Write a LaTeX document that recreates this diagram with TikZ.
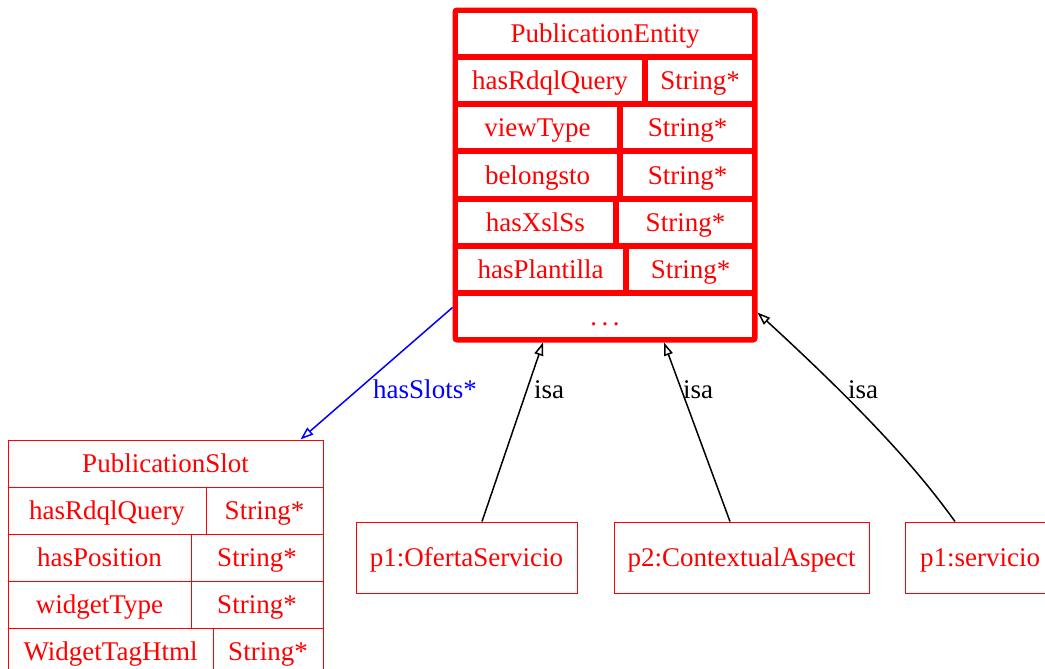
\documentclass[tikz,border=0pt]{standalone}
\usepackage{fontspec}
\setmainfont{Liberation Serif}
\usetikzlibrary{arrows.meta, calc}

\begin{document}
\begin{tikzpicture}[x = 0.5pt, y = -0.5pt,
  font = \fontsize{13.5}{16}\selectfont,
  cell/.style = {draw = red, text = red, inner sep = 0pt, text height = 10pt, text depth = 1pt},
  thickcell/.style = {cell, line width = 1.5pt, minimum height = 22.07pt},
  thincell/.style = {cell, line width = 0.5pt, minimum height = 23.5pt},
  lbl/.style = {inner sep = 0pt, text height = 10pt, text depth = 1pt},
  isa/.style = {-{Triangle[open, length = 6.5pt, width = 4.5pt]}, line width = 0.75pt}]
\useasboundingbox (0, 0) rectangle (1045, 669);
\clip (0, 0) rectangle (1045, 669);

% PublicationEntity
\node[draw = red, line width = 2.5pt, rounded corners = 1pt, minimum width = 150pt, minimum height = 165pt] (entity) at (605, 175) {};
\node[thickcell, minimum width = 148.5pt] (e-title) at (605, 33.57) {PublicationEntity};
\node[thickcell, minimum width = 93.5pt] (e-query) at (550, 80.71) {hasRdqlQuery};
\node[thickcell, minimum width = 53.5pt] (e-query-t) at (700, 80.71) {String*};
\node[thickcell, minimum width = 81pt] (e-view) at (537.5, 127.86) {viewType};
\node[thickcell, minimum width = 66pt] (e-view-t) at (687.5, 127.86) {String*};
\node[thickcell, minimum width = 81pt] (e-belongs) at (537.5, 175) {belongsto};
\node[thickcell, minimum width = 66pt] (e-belongs-t) at (687.5, 175) {String*};
\node[thickcell, minimum width = 79pt] (e-xsl) at (535.5, 222.14) {hasXslSs};
\node[thickcell, minimum width = 68pt] (e-xsl-t) at (685.5, 222.14) {String*};
\node[thickcell, minimum width = 84pt] (e-plant) at (540.5, 269.29) {hasPlantilla};
\node[thickcell, minimum width = 63pt] (e-plant-t) at (690.5, 269.29) {String*};
\node[thickcell, minimum width = 148.5pt] (e-more) at (605, 316.43) {.\,.\,.};

% PublicationSlot
\node[thincell, minimum width = 157.5pt] (slot) at (165.5, 463.5) {PublicationSlot};
\node[thincell, minimum width = 99pt] (s-query) at (107, 510.5) {hasRdqlQuery};
\node[thincell, minimum width = 58.5pt] (s-query-t) at (264.5, 510.5) {String*};
\node[thincell, minimum width = 91.5pt] (s-pos) at (99.5, 557.5) {hasPosition};
\node[thincell, minimum width = 66pt] (s-pos-t) at (257, 557.5) {String*};
\node[thincell, minimum width = 91.5pt] (s-widget) at (99.5, 604.5) {widgetType};
\node[thincell, minimum width = 66pt] (s-widget-t) at (257, 604.5) {String*};
\node[thincell, minimum width = 102.5pt] (s-html) at (110.5, 651.5) {WidgetTagHtml};
\node[thincell, minimum width = 55pt] (s-html-t) at (268, 651.5) {String*};

% instances
\node[cell, line width = 0.5pt, minimum width = 110.5pt, minimum height = 35.5pt] (ofertas) at (466.5, 557.5) {p1:OfertaServicio};
\node[cell, line width = 0.5pt, minimum width = 127.5pt, minimum height = 35.5pt] (aspect) at (741.5, 557.5) {p2:ContextualAspect};
\node[cell, line width = 0.5pt, minimum width = 75pt, minimum height = 35.5pt] (servicio) at (980, 557.5) {p1:servicio};

% edges
\draw[isa, blue] ($(entity.south west) + (0, -35)$) -- ($(slot.north east) + (-23, 0)$);
\node[lbl, text = blue] (slots-lbl) at (425, 389) {hasSlots*};
\draw[isa] ($(ofertas.north) + (15.5, 0)$) -- ($(entity.south) + (-62, 0)$);
\node[lbl] (isa-1) at (549, 389) {isa};
\draw[isa] ($(aspect.north) + (-11.5, 0)$) -- ($(entity.south) + (59, 0)$);
\node[lbl] (isa-2) at (698, 389) {isa};
\draw[isa] ($(servicio.north) + (-25, 0)$) .. controls (925, 480) and (880, 425) .. ($(entity.south east) + (0, -30)$);
\node[lbl] (isa-3) at (863, 389) {isa};
\end{tikzpicture}
\end{document}
